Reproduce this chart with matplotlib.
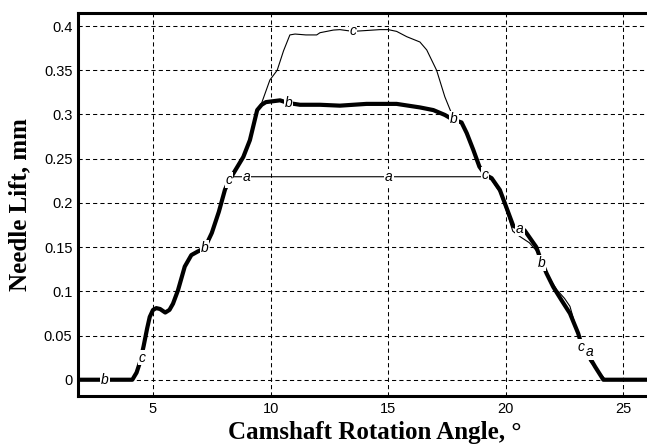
import numpy as np
import matplotlib
matplotlib.use('Agg')
import matplotlib.pyplot as plt

# curve b (thick): full profile
angle_b = [1.8, 4.12, 4.3, 4.45, 4.6, 4.75, 4.86, 5.0, 5.14, 5.3, 5.52, 5.7, 5.85,
           6.06, 6.35, 6.63, 6.9, 7.2, 7.5, 7.8, 8.06, 8.23, 8.41, 8.84, 9.12, 9.43,
           9.62, 9.8, 10.4, 10.75, 11.25, 12.1, 12.95, 14.08, 15.36, 16.35, 16.92,
           17.41, 17.77, 18.12, 18.34, 18.62, 18.88, 19.12, 19.4, 19.75, 20.04, 20.32,
           20.8, 21.3, 21.5, 21.74, 22.02, 22.37, 22.73, 23.08, 23.25, 23.51, 23.8,
           24.15, 27.1]
lift_b = [0, 0, 0.008, 0.02, 0.038, 0.058, 0.071, 0.079, 0.081, 0.080, 0.076, 0.079,
          0.086, 0.101, 0.128, 0.141, 0.145, 0.149, 0.166, 0.19, 0.215, 0.225, 0.233,
          0.252, 0.271, 0.305, 0.311, 0.314, 0.316, 0.313, 0.311, 0.311, 0.310, 0.312,
          0.312, 0.308, 0.305, 0.2995, 0.294, 0.291, 0.279, 0.26, 0.241, 0.232, 0.228,
          0.2146, 0.194, 0.174, 0.169, 0.150, 0.135, 0.12, 0.105, 0.09, 0.075, 0.0525,
          0.037, 0.028, 0.0147, 0, 0]

# curve c (thin): highest plateau
angle_c = [1.8, 4.12, 4.3, 4.45, 4.6, 4.75, 4.86, 5.0, 5.14, 5.3, 5.52, 5.7, 5.85,
           6.06, 6.35, 6.63, 6.9, 7.2, 7.5, 7.8, 8.06, 8.23, 8.41, 8.84, 9.12, 9.43,
           9.62, 9.97, 10.28, 10.55, 10.82, 11.04, 11.5, 11.96, 12.1, 12.67, 12.95,
           13.5, 14.65, 15.0, 15.36, 15.79, 16.35, 16.64, 17.06, 17.41, 17.7, 17.85,
           18.12, 18.34, 18.62, 18.88, 19.12, 19.4, 19.75, 20.04, 20.32, 20.8, 21.3,
           21.5, 21.74, 22.18, 22.5, 22.73, 23.0, 23.23, 23.6, 24.02, 24.25, 27.1]
lift_c = [0, 0, 0.008, 0.02, 0.038, 0.058, 0.071, 0.079, 0.081, 0.080, 0.076, 0.079,
          0.086, 0.101, 0.128, 0.141, 0.145, 0.149, 0.166, 0.19, 0.215, 0.225, 0.233,
          0.252, 0.271, 0.305, 0.313, 0.339, 0.350, 0.372, 0.390, 0.391, 0.390, 0.390,
          0.3925, 0.3955, 0.396, 0.394, 0.396, 0.396, 0.394, 0.388, 0.382, 0.373,
          0.350, 0.320, 0.301, 0.295, 0.291, 0.279, 0.26, 0.241, 0.232, 0.228, 0.2146,
          0.194, 0.174, 0.169, 0.150, 0.135, 0.12, 0.1015, 0.092, 0.083, 0.058, 0.037,
          0.02, 0.007, 0, 0]

# curve a (thin): lowest plateau
angle_a = [1.8, 4.12, 4.3, 4.45, 4.6, 4.75, 4.86, 5.0, 5.14, 5.3, 5.52, 5.7, 5.85,
           6.06, 6.35, 6.63, 6.9, 7.2, 7.5, 7.8, 8.06, 8.23, 8.41, 9.0, 15.0, 19.12,
           19.4, 19.75, 20.04, 20.3, 20.6, 21.0, 21.4, 21.74, 22.02, 22.37, 22.73,
           23.08, 23.3, 23.58, 23.8, 24.15, 27.1]
lift_a = [0, 0, 0.008, 0.02, 0.038, 0.058, 0.071, 0.079, 0.081, 0.080, 0.076, 0.079,
          0.086, 0.101, 0.128, 0.141, 0.145, 0.149, 0.166, 0.19, 0.215, 0.225, 0.2296,
          0.2296, 0.2296, 0.2296, 0.226, 0.212, 0.19, 0.168, 0.162, 0.155, 0.143,
          0.12, 0.105, 0.09, 0.075, 0.0525, 0.038, 0.028, 0.015, 0, 0]

# curve labels placed on the lines
label_text = ['b', 'c', 'b', 'c', 'a', 'b', 'c', 'a', 'b', 'c', 'a', 'b', 'c', 'a']
label_x = [2.95, 4.55, 7.2, 8.23, 8.98, 10.75, 13.5, 15.03, 17.8, 19.12, 20.6,
           21.53, 23.22, 23.55]
label_y = [0.0, 0.025, 0.149, 0.226, 0.229, 0.313, 0.394, 0.229, 0.295, 0.232,
           0.171, 0.132, 0.037, 0.031]

xticks = [5, 10, 15, 20, 25]
yticks = [0, 0.05, 0.1, 0.15, 0.2, 0.25, 0.3, 0.35, 0.4]
ytick_labels = ['0', '0.05', '0.1', '0.15', '0.2', '0.25', '0.3', '0.35', '0.4']

fig = plt.figure(figsize=(6.47, 4.45), dpi=100)
ax = fig.add_axes([78 / 647, 1 - 396 / 445, (672 - 78) / 647, (396 - 13) / 445])

ax.plot(angle_a, lift_a, color='black', lw=0.8, zorder=3)
ax.plot(angle_c, lift_c, color='black', lw=0.8, zorder=3)
ax.plot(angle_b, lift_b, color='black', lw=3.0, zorder=4, solid_capstyle='butt')

for t, x, y in zip(label_text, label_x, label_y):
    ax.text(x, y, t, ha='center', va='center', fontsize=10, style='italic',
            family='Liberation Sans', zorder=5,
            bbox=dict(fc='white', ec='none', pad=0.6))

ax.set_xlim(1.81, 27.07)
ax.set_ylim(-0.0184, 0.4148)
ax.set_xticks(xticks)
ax.set_yticks(yticks)
ax.set_yticklabels(ytick_labels)
ax.tick_params(length=0, labelsize=10.5, pad=4)
for lab in ax.get_xticklabels() + ax.get_yticklabels():
    lab.set_family('Liberation Sans')

ax.grid(True, color='black', linestyle=(0, (4, 3)), linewidth=0.75)
ax.set_axisbelow(True)
for s in ax.spines.values():
    s.set_linewidth(2.2)

ax.set_xlabel('Camshaft Rotation Angle, \u00b0', family='Liberation Serif',
              fontweight='bold', fontsize=18, labelpad=4)
ax.set_ylabel('Needle Lift, mm', family='Liberation Serif',
              fontweight='bold', fontsize=18, labelpad=9)

fig.savefig('out.png', dpi=100)
